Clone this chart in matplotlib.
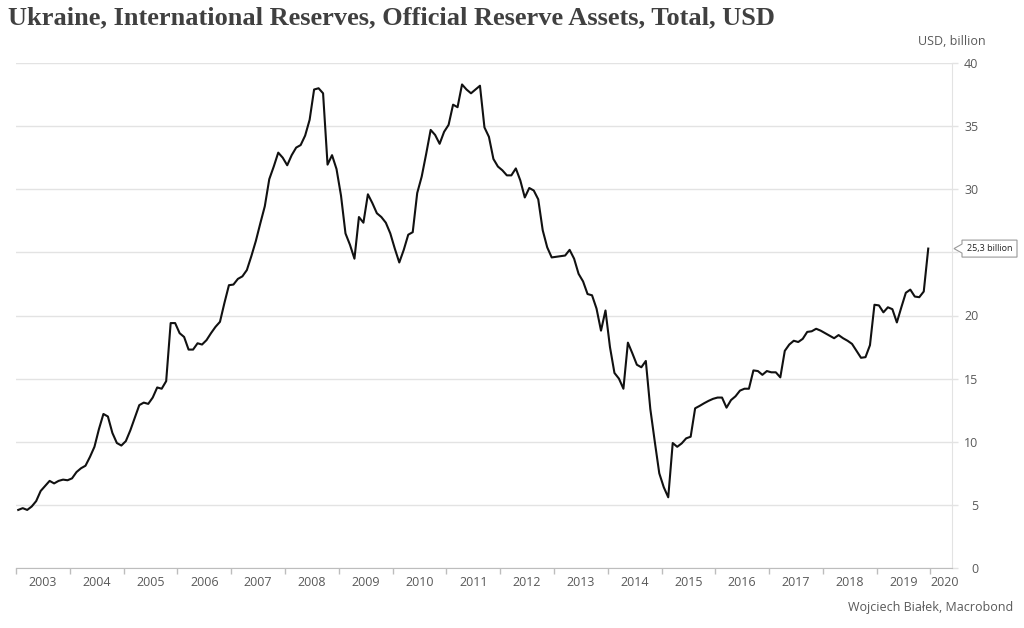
import numpy as np
import pandas as pd
import matplotlib
matplotlib.use("Agg")
import matplotlib.pyplot as plt
from matplotlib.patches import Polygon
from matplotlib.transforms import IdentityTransform

# ---------------- data ----------------
title = "Ukraine, International Reserves, Official Reserve Assets, Total, USD"
unit_label = "USD, billion"
credit = "Wojciech Białek, Macrobond"
start_month = "2003-01"

year_labels = [str(y) for y in range(2003, 2021)]
y_ticks = [0, 5, 10, 15, 20, 25, 30, 35, 40]

reserves = [
    # 2003
    4.6, 4.74, 4.6, 4.87, 5.3, 6.1, 6.5, 6.9, 6.7, 6.9, 7.0, 6.95,
    # 2004
    7.1, 7.6, 7.9, 8.1, 8.8, 9.6, 11.0, 12.2, 12.0, 10.7, 9.9, 9.7,
    # 2005
    10.05, 10.9, 11.9, 12.9, 13.1, 13.0, 13.5, 14.3, 14.2, 14.8, 19.4, 19.4,
    # 2006
    18.6, 18.3, 17.3, 17.3, 17.8, 17.7, 18.05, 18.6, 19.1, 19.5, 21.0, 22.4,
    # 2007
    22.45, 22.9, 23.1, 23.6, 24.7, 25.9, 27.3, 28.65, 30.8, 31.8, 32.9, 32.5,
    # 2008
    31.9, 32.7, 33.3, 33.5, 34.25, 35.5, 37.9, 38.0, 37.6, 31.95, 32.7, 31.6,
    # 2009
    29.5, 26.5, 25.6, 24.5, 27.8, 27.35, 29.6, 28.9, 28.1, 27.8, 27.35, 26.5,
    # 2010
    25.3, 24.2, 25.2, 26.4, 26.6, 29.7, 31.0, 32.8, 34.7, 34.3, 33.6, 34.55,
    # 2011
    35.1, 36.7, 36.5, 38.3, 37.9, 37.6, 37.9, 38.2, 34.9, 34.15, 32.4, 31.8,
    # 2012
    31.5, 31.1, 31.1, 31.65, 30.7, 29.35, 30.1, 29.9, 29.2, 26.75, 25.4, 24.6,
    # 2013
    24.65, 24.7, 24.75, 25.2, 24.5, 23.3, 22.7, 21.7, 21.6, 20.55, 18.8, 20.4,
    # 2014
    17.5, 15.45, 15.0, 14.2, 17.85, 17.0, 16.1, 15.9, 16.4, 12.6, 10.0, 7.5,
    # 2015
    6.4, 5.6, 9.9, 9.6, 9.87, 10.27, 10.4, 12.65, 12.84, 13.05, 13.24, 13.4,
    # 2016
    13.5, 13.5, 12.7, 13.3, 13.6, 14.05, 14.2, 14.2, 15.65, 15.6, 15.3, 15.6,
    # 2017
    15.5, 15.5, 15.1, 17.2, 17.7, 18.0, 17.9, 18.15, 18.7, 18.75, 18.95, 18.8,
    # 2018
    18.6, 18.4, 18.2, 18.45, 18.2, 18.0, 17.75, 17.2, 16.65, 16.7, 17.65, 20.85,
    # 2019
    20.8, 20.25, 20.65, 20.5, 19.45, 20.65, 21.8, 22.05, 21.5, 21.45, 21.9, 25.3,
]
last_label = "25,3 billion"

# ---------------- figure ----------------
dates = pd.period_range(start_month, periods=len(reserves), freq="M")
xvals = dates.year + (dates.month - 0.5) / 12.0

W, H = 1024, 628
fig = plt.figure(figsize=(W / 100, H / 100), dpi=100)
fig.patch.set_facecolor("white")
ax = fig.add_axes([16 / W, 1 - 568 / H, (952 - 16) / W, (568 - 63) / H])

FONT = "Open Sans"
TXT = "#595959"
GRID = "#e3e3e3"

ax.plot(xvals, reserves, color="#111111", lw=1.5, solid_joinstyle="round", zorder=3)

first_year = int(year_labels[0])
ax.set_xlim(first_year, first_year + 17.4)
ax.set_ylim(0, 40)

# year boundary ticks (major) + centred labels (minor)
bounds = list(range(first_year, int(year_labels[-1]) + 1))
ax.set_xticks(bounds)
ax.set_xticklabels([])
label_pos = [y + 0.5 for y in range(first_year, int(year_labels[-1]))] + [int(year_labels[-1]) + 0.27]
ax.set_xticks(label_pos, minor=True)
ax.set_xticklabels(year_labels, minor=True, fontsize=9, color=TXT, family=FONT)
ax.tick_params(axis="x", which="major", length=4, color="#bdbdbd", width=1)
ax.tick_params(axis="x", which="minor", length=0, pad=6)

# y axis on the right; the label hidden behind the last-value callout is left blank
last_val = reserves[-1]
ax.yaxis.tick_right()
ax.set_yticks(y_ticks)
ax.set_yticklabels(["" if abs(v - last_val) < 1.5 else str(v) for v in y_ticks],
                   fontsize=9, color=TXT, family=FONT)
ax.tick_params(axis="y", length=4, color=GRID, width=1, pad=15)
for lbl in ax.get_yticklabels():
    lbl.set_horizontalalignment("right")

ax.grid(axis="y", color=GRID, lw=1)
ax.set_axisbelow(True)
for s in ["left", "top"]:
    ax.spines[s].set_visible(False)
ax.spines["right"].set_color(GRID)
ax.spines["bottom"].set_color("#bdbdbd")

# unit label above right axis
ax.text(1.0, 41.2, unit_label, transform=ax.get_yaxis_transform(),
        ha="center", va="bottom", fontsize=9, color=TXT, family=FONT)

# title & credit
fig.text(8 / W, 1 - 18 / H, title, ha="left", va="center", fontsize=19,
         fontweight="bold", family="Liberation Serif", color="#404040")
fig.text(1013 / W, 1 - 608 / H, credit, ha="right", va="center",
         fontsize=9, color=TXT, family=FONT)

# callout for last value
tx, ty = ax.get_yaxis_transform().transform((1.0, last_val))
tipx = tx + 2
verts = [(tipx, ty), (tipx + 8, ty + 4.5), (tipx + 8, ty + 8.5), (tipx + 63, ty + 8.5),
         (tipx + 63, ty - 8.5), (tipx + 8, ty - 8.5), (tipx + 8, ty - 4.5)]
poly = Polygon(verts, closed=True, transform=IdentityTransform(),
               facecolor="white", edgecolor="#9a9a9a", lw=0.8, zorder=5)
fig.add_artist(poly)
fig.text((tipx + 35.5) / W, ty / H, last_label, ha="center", va="center",
         fontsize=6.5, color="#222222", family=FONT, zorder=6)

fig.savefig("out.png", dpi=100, facecolor="white")
